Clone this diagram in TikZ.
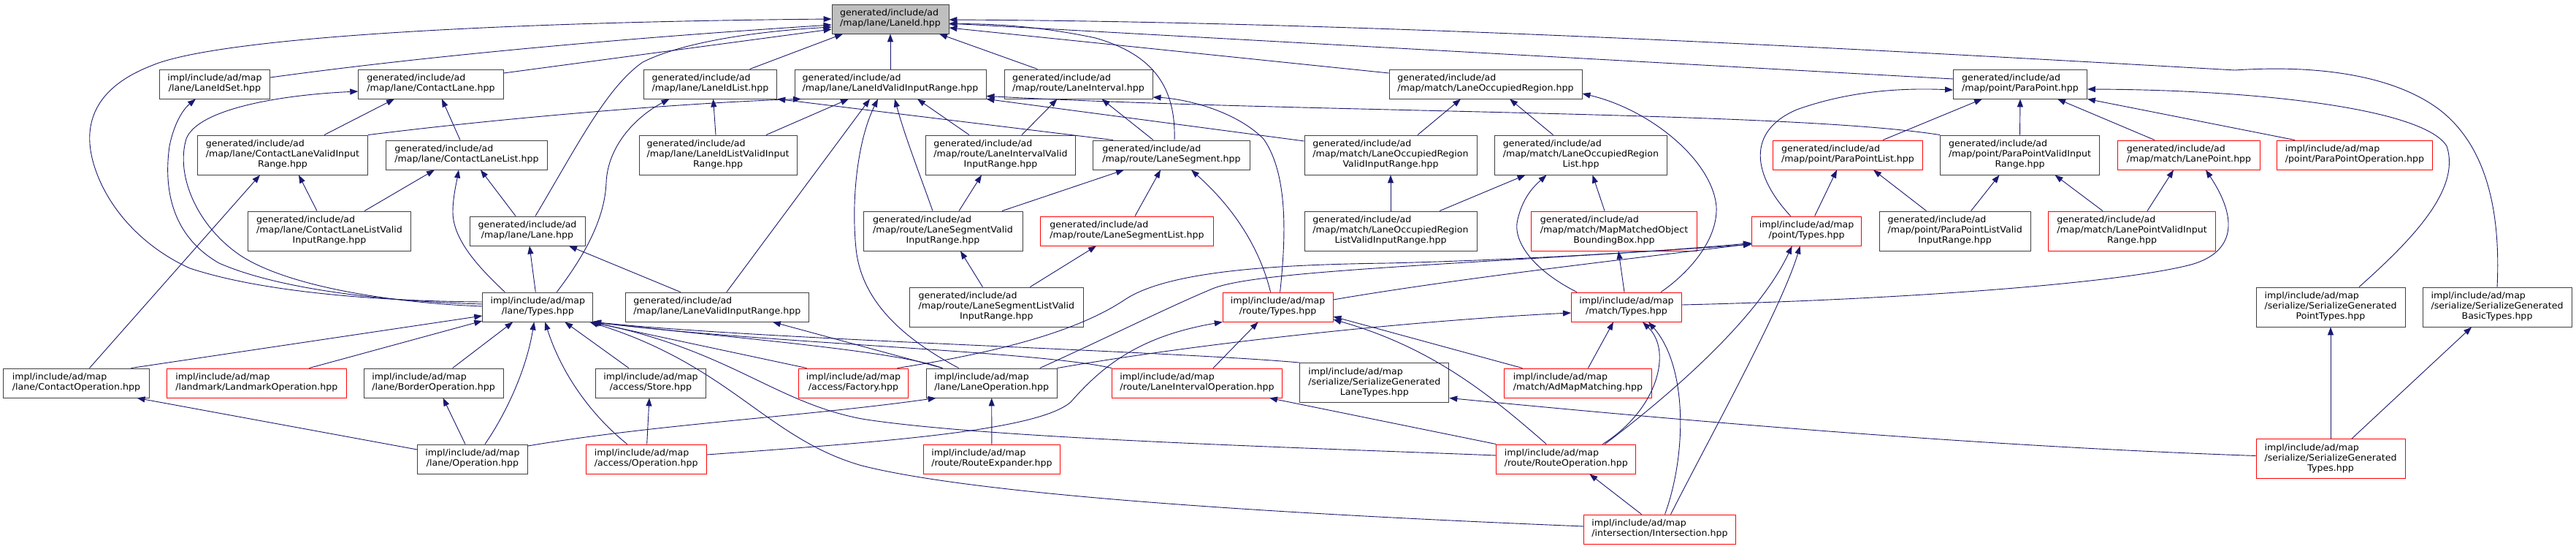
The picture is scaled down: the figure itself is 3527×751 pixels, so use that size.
\documentclass[tikz,border=0pt]{standalone}
\usepackage{fontspec}
\newfontfamily\gfont{DejaVu Sans}[FakeStretch=1.05]
\usetikzlibrary{arrows.meta}
\definecolor{edgec}{RGB}{25,25,112}
\definecolor{nredc}{RGB}{255,0,0}
\definecolor{nblk}{RGB}{64,64,64}
\newcommand{\glab}[2]{\begin{tabular}{@{}l@{}}#1\\\multicolumn{1}{@{}c@{}}{#2}\end{tabular}}
\begin{document}
\begin{tikzpicture}[x=1pt,y=-1pt,
  nbox/.style={draw=nblk, line width=0.9pt, fill=white, inner xsep=2pt, inner ysep=0pt, minimum height=40pt, font=\gfont\fontsize{12}{14}\selectfont, text=black},
  nthree/.style={minimum height=54pt},
  nred/.style={draw=nredc},
  nroot/.style={fill=black!25},
  e/.style={draw=edgec, line width=0.9pt, -{Triangle[length=11pt,width=8pt]}}]
\useasboundingbox (0,0) rectangle (3527,751);
% row 1
\node[nbox,nroot,minimum width=160pt] (root) at (1219,26) {\glab{generated/include/ad}{/map/lane/LaneId.hpp}};
% row 2
\node[nbox,minimum width=151pt] (lis) at (294,115) {\glab{impl/include/ad/map}{/lane/LaneIdSet.hpp}};
\node[nbox,minimum width=198.5pt] (cl) at (590,115) {\glab{generated/include/ad}{/map/lane/ContactLane.hpp}};
\node[nbox,minimum width=182.5pt] (lil) at (972.5,115) {\glab{generated/include/ad}{/map/lane/LaneIdList.hpp}};
\node[nbox,minimum width=262pt] (livr) at (1219,115) {\glab{generated/include/ad}{/map/lane/LaneIdValidInputRange.hpp}};
\node[nbox,minimum width=203pt] (li) at (1476.5,115) {\glab{generated/include/ad}{/map/route/LaneInterval.hpp}};
\node[nbox,minimum width=264pt] (lor) at (2034,115) {\glab{generated/include/ad}{/map/match/LaneOccupiedRegion.hpp}};
\node[nbox,minimum width=183pt] (pp) at (2766,115) {\glab{generated/include/ad}{/map/point/ParaPoint.hpp}};
% row 3
\node[nbox,nthree,minimum width=233.5pt] (clvr) at (387,212) {\glab{generated/include/ad\\/map/lane/ContactLaneValidInput}{Range.hpp}};
\node[nbox,minimum width=221pt] (cll) at (639,212) {\glab{generated/include/ad}{/map/lane/ContactLaneList.hpp}};
\node[nbox,nthree,minimum width=216pt] (lilvr) at (983,212) {\glab{generated/include/ad\\/map/lane/LaneIdListValidInput}{Range.hpp}};
\node[nbox,nthree,minimum width=205.5pt] (livvr) at (1370,212) {\glab{generated/include/ad\\/map/route/LaneIntervalValid}{InputRange.hpp}};
\node[nbox,minimum width=215pt] (ls) at (1604,212) {\glab{generated/include/ad}{/map/route/LaneSegment.hpp}};
\node[nbox,nthree,minimum width=236pt] (lorvr) at (1904,212) {\glab{generated/include/ad\\/map/match/LaneOccupiedRegion}{ValidInputRange.hpp}};
\node[nbox,nthree,minimum width=236pt] (lorl) at (2164.5,212) {\glab{generated/include/ad\\/map/match/LaneOccupiedRegion}{List.hpp}};
\node[nbox,nred,minimum width=205.5pt] (ppl) at (2530,212) {\glab{generated/include/ad}{/map/point/ParaPointList.hpp}};
\node[nbox,nthree,minimum width=218pt] (ppvr) at (2765.5,212) {\glab{generated/include/ad\\/map/point/ParaPointValidInput}{Range.hpp}};
\node[nbox,nred,minimum width=194.5pt] (lp) at (2997,212) {\glab{generated/include/ad}{/map/match/LanePoint.hpp}};
\node[nbox,nred,minimum width=213.6pt] (ppop) at (3224,212) {\glab{impl/include/ad/map}{/point/ParaPointOperation.hpp}};
% row 4
\node[nbox,nthree,minimum width=223pt] (cllvr) at (451,316) {\glab{generated/include/ad\\/map/lane/ContactLaneListValid}{InputRange.hpp}};
\node[nbox,minimum width=158pt] (lane) at (722,316) {\glab{generated/include/ad}{/map/lane/Lane.hpp}};
\node[nbox,nthree,minimum width=218pt] (lsvr) at (1291,316) {\glab{generated/include/ad\\/map/route/LaneSegmentValid}{InputRange.hpp}};
\node[nbox,nred,minimum width=237.6pt] (lsl) at (1543,316) {\glab{generated/include/ad}{/map/route/LaneSegmentList.hpp}};
\node[nbox,nthree,minimum width=236pt] (lorlvr) at (1904,316) {\glab{generated/include/ad\\/map/match/LaneOccupiedRegion}{ListValidInputRange.hpp}};
\node[nbox,nthree,nred,minimum width=227pt] (mmobb) at (2210,316) {\glab{generated/include/ad\\/map/match/MapMatchedObject}{BoundingBox.hpp}};
\node[nbox,nred,minimum width=150.4pt] (ptypes) at (2473.6,316) {\glab{impl/include/ad/map}{/point/Types.hpp}};
\node[nbox,nthree,minimum width=206.7pt] (ppvlr) at (2676.6,316) {\glab{generated/include/ad\\/map/point/ParaPointListValid}{InputRange.hpp}};
\node[nbox,nthree,nred,minimum width=229.6pt] (lpvr) at (2919,316) {\glab{generated/include/ad\\/map/match/LanePointValidInput}{Range.hpp}};
% row 5
\node[nbox,minimum width=151.2pt] (ltypes) at (736.3,420) {\glab{impl/include/ad/map}{/lane/Types.hpp}};
\node[nbox,minimum width=251pt] (lvr) at (981.8,420) {\glab{generated/include/ad}{/map/lane/LaneValidInputRange.hpp}};
\node[nbox,nthree,minimum width=238.8pt] (lslvr) at (1364.4,420) {\glab{generated/include/ad\\/map/route/LaneSegmentListValid}{InputRange.hpp}};
\node[nbox,nred,minimum width=150.7pt] (rtypes) at (1749.6,420) {\glab{impl/include/ad/map}{/route/Types.hpp}};
\node[nbox,nred,minimum width=151.2pt] (mtypes) at (2227,420) {\glab{impl/include/ad/map}{/match/Types.hpp}};
\node[nbox,nthree,minimum width=204pt] (sgpt) at (3191,420) {\glab{impl/include/ad/map\\/serialize/SerializeGenerated}{PointTypes.hpp}};
\node[nbox,nthree,minimum width=204pt] (sgbt) at (3419,420) {\glab{impl/include/ad/map\\/serialize/SerializeGenerated}{BasicTypes.hpp}};
% row 6
\node[nbox,minimum width=199.7pt] (cop) at (104.5,524) {\glab{impl/include/ad/map}{/lane/ContactOperation.hpp}};
\node[nbox,nred,minimum width=245.6pt] (lmop) at (351.3,524) {\glab{impl/include/ad/map}{/landmark/LandmarkOperation.hpp}};
\node[nbox,minimum width=190.8pt] (bop) at (593.6,524) {\glab{impl/include/ad/map}{/lane/BorderOperation.hpp}};
\node[nbox,minimum width=150.8pt] (store) at (891,524) {\glab{impl/include/ad/map}{/access/Store.hpp}};
\node[nbox,nred,minimum width=150.6pt] (factory) at (1168.5,524) {\glab{impl/include/ad/map}{/access/Factory.hpp}};
\node[nbox,minimum width=178.7pt] (laneop) at (1357.7,524) {\glab{impl/include/ad/map}{/lane/LaneOperation.hpp}};
\node[nbox,nred,minimum width=233.4pt] (liop) at (1639,524) {\glab{impl/include/ad/map}{/route/LaneIntervalOperation.hpp}};
\node[nbox,nthree,minimum width=204pt] (sglt) at (1881.8,523.5) {\glab{impl/include/ad/map\\/serialize/SerializeGenerated}{LaneTypes.hpp}};
\node[nbox,nred,minimum width=201.7pt] (amm) at (2160.4,524) {\glab{impl/include/ad/map}{/match/AdMapMatching.hpp}};
% row 7
\node[nbox,minimum width=150.7pt] (lop) at (647,628) {\glab{impl/include/ad/map}{/lane/Operation.hpp}};
\node[nbox,nred,minimum width=165.3pt] (aop) at (884.7,628) {\glab{impl/include/ad/map}{/access/Operation.hpp}};
\node[nbox,nred,minimum width=186.7pt] (rexp) at (1357.9,628) {\glab{impl/include/ad/map}{/route/RouteExpander.hpp}};
\node[nbox,nred,minimum width=191pt] (rop) at (2144.3,628) {\glab{impl/include/ad/map}{/route/RouteOperation.hpp}};
\node[nbox,nthree,nred,minimum width=204pt] (sgt) at (3191,627.5) {\glab{impl/include/ad/map\\/serialize/SerializeGenerated}{Types.hpp}};
% row 8
\node[nbox,nred,minimum width=207.7pt] (inter) at (2272.5,724) {\glab{impl/include/ad/map}{/intersection/Intersection.hpp}};

% ---------- edges to LaneId
\draw[e] ([yshift=7pt]ltypes.west) .. controls (520,412) and (360,400) .. (260,367) .. controls (200,340) and (150,290) .. (130,230) .. controls (110,170) and (130,120) .. (207,90) .. controls (300,50) and (700,30) .. (root.west);
\draw[e] ([yshift=9pt]lis.east) .. controls (450,95) and (700,62) .. ([yshift=-8pt]root.west);
\draw[e] ([yshift=15pt]cl.east) -- ([yshift=-14pt]root.west);
\draw[e] ([xshift=11pt]lane.north) .. controls (790,200) and (830,120) .. (880,85) .. controls (940,55) and (1050,42) .. ([yshift=-11pt]root.west);
\draw[e] ([xshift=54pt]lil.north) -- ([xshift=-65pt]root.south);
\draw[e] (livr.north) -- (root.south);
\draw[e] ([xshift=-56pt]li.north) -- ([xshift=67pt]root.south);
\draw[e] ([xshift=4pt]ls.north) .. controls (1610,120) and (1580,75) .. (1500,52) .. controls (1420,35) and (1350,32) .. ([yshift=-7pt]root.east);
\draw[e] ([yshift=15pt]lor.west) -- ([yshift=-12pt]root.east);
\draw[e] ([yshift=7pt]pp.west) -- ([yshift=-6pt]root.east);
\draw[e] (sgbt.north) .. controls (3424,290) and (3405,200) .. (3340,150) .. controls (3280,105) and (3180,88) .. (3060,96) .. controls (2600,70) and (1900,30) .. ([yshift=-1pt]root.east);

% ---------- lane group
\draw[e] ([xshift=-16pt]lane.north) -- ([xshift=19pt]cll.south);
\draw[e] ([xshift=-9pt]cll.north) -- ([xshift=15pt]cl.south);
\draw[e] ([xshift=57pt]clvr.north) -- ([xshift=-50pt]cl.south);
\draw[e] ([xshift=-17pt]cllvr.north) -- ([xshift=22pt]clvr.south);
\draw[e] ([xshift=48pt]cllvr.north) -- ([xshift=-44pt]cll.south);
\draw[e] (clvr.north east) .. controls (700,160) and (950,140) .. ([xshift=-122pt]livr.south);
\draw[e] ([xshift=-80pt]ls.north) -- (lil.south east);
\draw[e] ([xshift=-3pt]lilvr.north) -- ([xshift=4pt]lil.south);
\draw[e] ([xshift=66pt]lilvr.north) -- ([xshift=-57pt]livr.south);
\draw[e] ([xshift=13pt]lvr.north) -- ([xshift=-28pt]livr.south);
\draw[e] ([xshift=-45pt]laneop.north) .. controls (1250,470) and (1180,420) .. (1172,340) .. controls (1165,270) and (1175,190) .. ([xshift=-17pt]livr.south);
\draw[e] ([xshift=-14pt]lsvr.north) .. controls (1260,240) and (1240,190) .. ([xshift=6pt]livr.south);
\draw[e] ([xshift=-43pt]livvr.north) -- ([xshift=37pt]livr.south);
\draw[e] ([xshift=29pt]livvr.north) -- ([xshift=-29pt]li.south);
\draw[e] ([xshift=-25pt]ls.north) -- ([xshift=32pt]li.south);
\draw[e] (ppvr.north west) .. controls (2450,152) and (1800,155) .. ([yshift=4pt]livr.south east);
\draw[e] ([yshift=19pt]lorvr.west) -- (livr.south east);
\draw[e] ([xshift=22pt]lsvr.north) -- ([xshift=-26pt]livvr.south);
\draw[e] ([xshift=81pt]lsvr.north) -- ([xshift=-65pt]ls.south);
\draw[e] ([xshift=11pt]lsl.north) -- ([xshift=-15pt]ls.south);
\draw[e] ([xshift=-10pt]rtypes.north) .. controls (1725,340) and (1690,285) .. ([xshift=27pt]ls.south);
\draw[e] ([xshift=3pt]rtypes.north) .. controls (1760,330) and (1765,240) .. (1730,190) .. controls (1690,150) and (1620,135) .. ([yshift=-18pt]li.east);
\draw[e] ([xshift=46pt]lslvr.north) -- ([xshift=-42pt]lsl.south);
\draw[e] ([xshift=-19pt]lslvr.north) -- ([xshift=24pt]lsvr.south);

% ---------- match group
\draw[e] ([xshift=37pt]lorvr.north) -- ([xshift=-34pt]lor.south);
\draw[e] ([xshift=-38pt]lorl.north) -- ([xshift=33pt]lor.south);
\draw[e] (lorlvr.north) -- (lorvr.south);
\draw[e] ([xshift=67pt]lorlvr.north) -- ([xshift=-76pt]lorl.south);
\draw[e] ([xshift=-13pt]mmobb.north) -- ([xshift=16pt]lorl.south);
\draw[e] ([xshift=-68pt]mtypes.north) .. controls (2100,370) and (2070,330) .. (2078,300) .. controls (2085,270) and (2100,255) .. ([xshift=-47pt]lorl.south);
\draw[e] ([xshift=-3pt]mtypes.north) -- ([xshift=6pt]mmobb.south);
\draw[e] ([xshift=47pt]mtypes.north) .. controls (2310,375) and (2352,330) .. (2350,283) .. controls (2345,220) and (2260,150) .. ([yshift=-13pt]lor.east);
\draw[e] ([yshift=3pt]mtypes.east) .. controls (2600,410) and (2900,388) .. (3000,362) .. controls (3060,345) and (3065,300) .. ([xshift=23pt]lp.south);

% ---------- point/Types
\draw[e] ([xshift=53pt]rop.north) .. controls (2300,530) and (2410,430) .. ([xshift=-20pt]ptypes.south);
\draw[e] ([xshift=15pt]inter.north) .. controls (2340,600) and (2440,420) .. ([xshift=-9pt]ptypes.south);
\draw[e] ([yshift=10pt]rtypes.east) .. controls (2000,380) and (2250,352) .. ([yshift=3pt]ptypes.south west);
\draw[e] ([xshift=60pt]factory.north) .. controls (1380,480) and (1480,450) .. (1540,410) .. controls (1600,370) and (1750,362) .. (1900,360) .. controls (2100,355) and (2300,342) .. ([yshift=4pt]ptypes.south west);
\draw[e] ([xshift=66pt]laneop.north) .. controls (1520,460) and (1600,420) .. (1660,395) .. controls (1720,370) and (2000,362) .. ([yshift=2pt]ptypes.south west);

% ---------- lane/Types upward
\draw[e] ([yshift=4pt]ltypes.west) .. controls (520,412) and (380,395) .. (300,360) .. controls (230,320) and (225,250) .. (232,200) .. controls (238,170) and (250,150) .. ([xshift=-26pt]lis.south);
\draw[e] ([yshift=1pt]ltypes.west) .. controls (550,415) and (400,395) .. (330,350) .. controls (270,310) and (240,240) .. (255,190) .. controls (270,150) and (380,130) .. ([yshift=-10pt]cl.west);
\draw[e] ([xshift=-45pt]ltypes.north) .. controls (660,370) and (620,330) .. (620,290) .. controls (620,270) and (625,250) .. ([xshift=-11pt]cll.south);
\draw[e] ([xshift=-3pt]ltypes.north) -- ([xshift=3pt]lane.south);
\draw[e] ([xshift=26pt]ltypes.north) .. controls (800,350) and (828,300) .. (830,250) .. controls (832,200) and (870,160) .. ([xshift=-56pt]lil.south);
\draw[e] ([xshift=-50pt]lvr.north) -- ([xshift=57pt]lane.south);

% ---------- into lane/Types
\draw[e] ([xshift=75pt]cop.north) -- ([yshift=-12pt]ltypes.west);
\draw[e] ([xshift=72pt]lmop.north) -- ([yshift=-19pt]ltypes.west);
\draw[e] ([xshift=18pt]cop.north) -- ([xshift=-31pt]clvr.south);
\draw[e] ([xshift=26pt]bop.north) -- ([xshift=-34pt]ltypes.south);
\draw[e] ([xshift=17pt]lop.north) .. controls (690,570) and (720,510) .. ([xshift=-5pt]ltypes.south);
\draw[e] ([xshift=-26pt]aop.north) .. controls (800,560) and (765,500) .. ([xshift=10pt]ltypes.south);
\draw[e] ([xshift=-30pt]store.north) -- ([xshift=37pt]ltypes.south);
\draw[e] ([xshift=-64pt]factory.north) -- ([xshift=-4pt]ltypes.south east);
\draw[e] ([xshift=-68pt]laneop.north) .. controls (1230,480) and (1000,462) .. ([xshift=-2pt]ltypes.south east);
\draw[e] ([xshift=-117pt]liop.north) .. controls (1420,480) and (1050,470) .. ([xshift=-1pt]ltypes.south east);
\draw[e] (sglt.north west) .. controls (1600,480) and (1050,465) .. (ltypes.south east);
\draw[e] ([yshift=5pt]rop.west) .. controls (1800,613) and (1350,600) .. (1180,573) .. controls (1060,550) and (1000,480) .. ([xshift=-3pt]ltypes.south east);
\draw[e] ([yshift=4pt]inter.west) .. controls (1800,705) and (1350,680) .. (1180,637) .. controls (1050,600) and (1000,500) .. ([xshift=-5pt]ltypes.south east);

% ---------- lower rows
\draw[e] ([xshift=-10pt]lop.north) -- ([xshift=13pt]bop.south);
\draw[e] ([yshift=13pt]lop.west) -- ([xshift=83pt]cop.south);
\draw[e] ([yshift=18pt]lop.east) .. controls (900,580) and (1100,570) .. ([xshift=-76pt]laneop.south);
\draw[e] ([xshift=1pt]aop.north) -- ([xshift=-2pt]store.south);
\draw[e] ([yshift=6pt]aop.east) .. controls (1200,605) and (1420,590) .. (1466,550) .. controls (1510,500) and (1560,460) .. (rtypes.south west);
\draw[e] (rexp.north) -- (laneop.south);
\draw[e] (laneop.north east) .. controls (1700,460) and (2000,435) .. ([yshift=-8pt]mtypes.west);
\draw[e] ([xshift=-67pt]laneop.north) -- ([xshift=76pt]lvr.south);
\draw[e] ([xshift=22pt]liop.north) -- ([xshift=-27pt]rtypes.south);
\draw[e] (rop.north west) -- ([xshift=99pt]liop.south);
\draw[e] ([xshift=-27pt]rop.north) .. controls (2040,540) and (1960,475) .. ([yshift=-17pt]rtypes.east);
\draw[e] ([xshift=-76pt]amm.north) -- ([yshift=-13pt]rtypes.east);
\draw[e] ([xshift=14pt]amm.north) -- ([xshift=-18pt]mtypes.south);
\draw[e] ([xshift=50pt]rop.north) .. controls (2270,560) and (2290,480) .. ([xshift=22pt]mtypes.south);
\draw[e] ([xshift=7pt]inter.north) .. controls (2310,620) and (2310,500) .. ([xshift=30pt]mtypes.south);
\draw[e] ([xshift=-25pt]inter.north) -- ([xshift=32pt]rop.south);
\draw[e] ([yshift=4pt]sgt.west) .. controls (2700,610) and (2300,575) .. ([yshift=-21pt]sglt.east);
\draw[e] (sgt.north) -- (sgpt.south);
\draw[e] ([xshift=29pt]sgt.north) -- ([xshift=-35pt]sgbt.south);

% ---------- point group
\draw[e] ([xshift=39pt]sgpt.north) .. controls (3300,330) and (3370,260) .. (3350,200) .. controls (3320,150) and (3100,123) .. ([yshift=-7pt]pp.east);
\draw[e] ([xshift=11pt]ptypes.north) -- ([xshift=-15pt]ppl.south);
\draw[e] ([xshift=-22pt]ptypes.north) .. controls (2400,240) and (2390,180) .. (2460,150) .. controls (2530,125) and (2600,120) .. ([yshift=-8pt]pp.west);
\draw[e] ([xshift=48pt]ppl.north) -- ([xshift=-52pt]pp.south);
\draw[e] (ppvr.north) -- (pp.south);
\draw[e] ([xshift=-47pt]lp.north) -- ([xshift=51pt]pp.south);
\draw[e] ([xshift=-82pt]ppop.north) -- (pp.south east);
\draw[e] ([xshift=-39pt]ppvlr.north) -- ([xshift=35pt]ppl.south);
\draw[e] ([xshift=22pt]ppvlr.north) -- ([xshift=-28pt]ppvr.south);
\draw[e] ([xshift=-40pt]lpvr.north) -- ([xshift=48pt]ppvr.south);
\draw[e] ([xshift=21pt]lpvr.north) -- ([xshift=-21pt]lp.south);
\end{tikzpicture}
\end{document}
